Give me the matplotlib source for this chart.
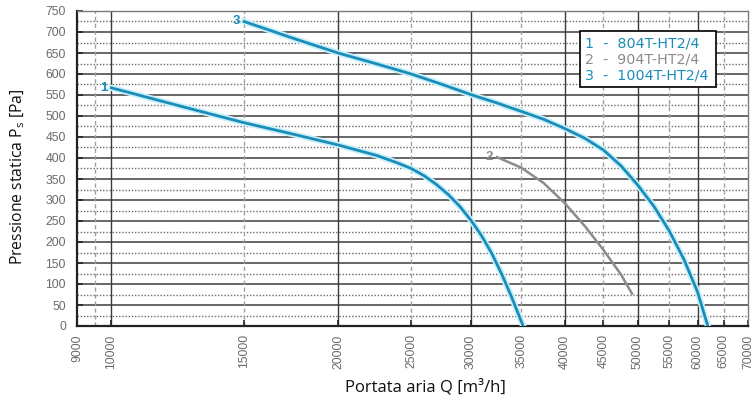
#!/usr/bin/env python3
"""
Fan curves: static pressure vs air flow for three fan models (log flow axis).
"""

import matplotlib
matplotlib.use('Agg')
import matplotlib.pyplot as plt
import matplotlib.patheffects as pe
from matplotlib.patches import Rectangle

# Curve data
flow_804 = [10000, 12500, 15000, 17500, 20000, 22500, 24000, 25000, 26000, 27000,
            28000, 29000, 30000, 31000, 32000, 33000, 34000, 35200]
ps_804 = [567, 521, 484, 456, 431, 406, 388, 375, 358, 337,
          313, 285, 252, 215, 172, 122, 68, 0]

flow_904 = [32500, 35000, 37500, 40000, 42500, 45000, 47500, 49100]
ps_904 = [402, 377, 340, 292, 238, 181, 122, 77]

flow_1004 = [15000, 17500, 20000, 22500, 25000, 27500, 30000, 32500, 35000, 37500,
             40000, 42500, 45000, 47500, 50000, 52500, 55000, 57500, 60000, 61900]
ps_1004 = [725, 684, 650, 624, 600, 575, 551, 531, 511, 492,
           470, 447, 419, 381, 335, 285, 227, 160, 81, 0]

series_names = ['1  -  804T-HT2/4', '2  -  904T-HT2/4', '3  -  1004T-HT2/4']
series_tags = ['1', '2', '3']

x_ticks = [9000, 10000, 15000, 20000, 25000, 30000, 35000, 40000, 45000,
           50000, 55000, 60000, 65000, 70000]
x_major_grid = [10000, 20000, 30000, 40000, 50000, 60000]
x_minor_grid = [9500, 15000, 25000, 35000, 45000, 55000, 65000]
y_ticks = list(range(0, 751, 50))
y_minor_grid = list(range(25, 750, 50))

BLUE = '#1b8cb8'
GRAY = '#8c8c8c'
TICK_GRAY = '#6a6a6a'

fig = plt.figure(figsize=(7.56, 4.03), dpi=100)
ax = fig.add_axes([77 / 756, 1 - 326 / 403, (748 - 77) / 756, (326 - 11) / 403])

ax.set_xscale('log')
ax.set_xlim(9000, 70000)
ax.set_ylim(0, 750)

# Grid
for y in y_ticks:
    ax.axhline(y, color='#5a5a5a', lw=1.3, zorder=1)
for y in y_minor_grid:
    ax.axhline(y, color='#6a6a6a', lw=1.0, ls=(0, (1, 1.3)), zorder=1)
for x in x_major_grid:
    ax.axvline(x, color='#3a3a3a', lw=1.0, zorder=1)
for x in x_minor_grid:
    ax.axvline(x, color='#a0a0a0', lw=1.0, ls=(0, (3, 2)), zorder=1)

halo = [pe.Stroke(linewidth=4.5, foreground='#c8f0fb'), pe.Normal()]
ax.plot(flow_804, ps_804, color=BLUE, lw=2.0, zorder=3, path_effects=halo)
ax.plot(flow_904, ps_904, color=GRAY, lw=1.8, zorder=3)
ax.plot(flow_1004, ps_1004, color=BLUE, lw=2.0, zorder=3, path_effects=halo)

# Curve numbers at the start of each curve
for fx, py, tag, col in [(flow_804, ps_804, series_tags[0], BLUE),
                         (flow_904, ps_904, series_tags[1], GRAY),
                         (flow_1004, ps_1004, series_tags[2], BLUE)]:
    ax.annotate(tag, (fx[0], py[0]), xytext=(-3, 0), textcoords='offset points',
                ha='right', va='center', color=col, fontsize=9.5,
                fontweight='bold', family='Liberation Sans', zorder=4)

# Axes styling
for side in ['top', 'right']:
    ax.spines[side].set_color('#7a7a7a')
    ax.spines[side].set_linewidth(1.0)
for side in ['left', 'bottom']:
    ax.spines[side].set_color('#222222')
    ax.spines[side].set_linewidth(1.6)

ax.set_xticks(x_ticks)
ax.set_xticklabels([str(v) for v in x_ticks], rotation=90)
ax.xaxis.set_minor_locator(matplotlib.ticker.NullLocator())
ax.set_yticks(y_ticks)
ax.tick_params(axis='both', direction='in', length=4, width=1.2, color='#222222',
               labelcolor=TICK_GRAY, labelsize=8.8)
ax.tick_params(axis='x', pad=6)
ax.tick_params(axis='y', pad=8)
for lab in ax.get_xticklabels() + ax.get_yticklabels():
    lab.set_family('Liberation Sans')

# Legend box
ax.add_patch(Rectangle((0.750, 0.759), 0.202, 0.178, transform=ax.transAxes,
                       facecolor='white', edgecolor='#111111', lw=1.3, zorder=5))
for i, (name, col) in enumerate(zip(series_names, [BLUE, GRAY, BLUE])):
    ax.text(0.757, 0.898 - i * 0.051, name, transform=ax.transAxes, color=col,
            fontsize=10.3, family='DejaVu Sans', va='center', ha='left', zorder=6)

fig.text(18 / 756, 1 - 177 / 403, r'Pressione statica P$_{\mathregular{s}}$ [Pa]',
         rotation=90, ha='center', va='center', fontsize=11.3, family='Open Sans',
         color='#111111')
fig.text(425 / 756, 1 - 387 / 403, 'Portata aria Q [m\u00b3/h]', ha='center',
         va='center', fontsize=12, family='Open Sans', color='#111111')

fig.savefig('out.png', dpi=100)
